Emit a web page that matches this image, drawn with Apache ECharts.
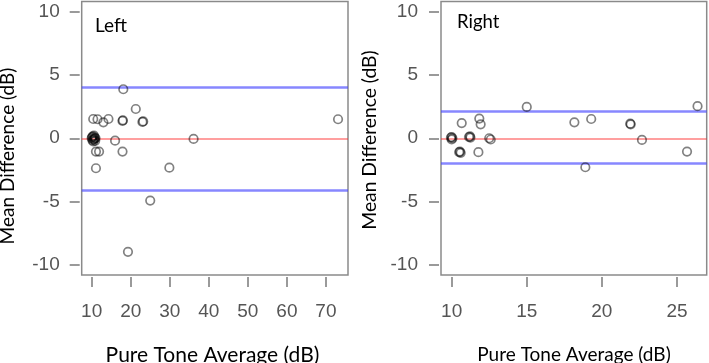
<!DOCTYPE html>
<html><head><meta charset="utf-8">
<script src="https://cdn.jsdelivr.net/npm/echarts@6/dist/echarts.min.js"></script>
<style>html,body{margin:0;padding:0;background:#fff}#c{width:709px;height:363px}</style>
</head><body><div id="c"></div>
<script>
// Left ear: Pure Tone Average (dB) vs Mean Difference (dB)
const leftPTA  = [10.0, 10.3, 10.5, 10.8, 11.0, 10.2, 10.6, 10.9, 10.1, 10.7, 10.4,
                  10.4, 11.5, 13.0, 14.3, 17.9, 18.0, 21.3, 23.0, 23.2, 18.1, 73.1,
                  16.0, 36.1,
                  11.1, 11.9, 17.9, 11.1, 29.9, 25.0, 19.3];
const leftDiff = [0.0, 0.15, -0.1, 0.05, 0.0, -0.15, 0.2, -0.2, 0.1, -0.05, -0.25,
                  1.52, 1.5, 1.26, 1.52, 1.37, 1.42, 2.31, 1.29, 1.33, 3.87, 1.5,
                  -0.19, -0.05,
                  -1.05, -1.05, -1.05, -2.37, -2.32, -4.92, -8.97];
const leftMean = 0;
const leftLimits = [-4.08, 4.03];

// Right ear
const rightPTA  = [10.0, 10.0, 10.05, 9.95, 11.22, 11.25, 11.15, 12.5, 12.6,
                   10.55, 10.6, 10.5, 11.78, 10.67, 11.84, 11.93, 15.0, 18.17, 19.29,
                   21.89, 21.92, 22.67, 18.9, 25.67, 26.37];
const rightDiff = [0.1, -0.1, 0.0, 0.05, 0.15, 0.05, 0.1, 0.0, -0.1,
                   -1.05, -1.15, -1.1, -1.1, 1.2, 1.55, 1.1, 2.47, 1.26, 1.52,
                   1.15, 1.1, -0.13, -2.29, -1.05, 2.53];
const rightMean = 0;
const rightLimits = [-2.0, 2.1];

// Tick labels
const leftXTicks = [10, 20, 30, 40, 50, 60, 70];
const rightXTicks = [10, 15, 20, 25];
const yTicks = [-10, -5, 0, 5, 10];

const panelLabels = ['Left', 'Right'];
const yTitle = 'Mean Difference (dB)';
const xTitle = 'Pure Tone Average (dB)';

const tickColor = '#7a7a7a';
const labelColor = '#555';

function xAxisCfg(gi, min, max, ticks) {
  return {
    type: 'value', gridIndex: gi, min: min, max: max, offset: 2, position: 'bottom',
    splitLine: {show: false}, axisLine: {show: false, onZero: false},
    axisTick: {show: true, length: 10, customValues: ticks, lineStyle: {color: tickColor, width: 1.5}},
    axisLabel: {customValues: ticks, margin: 25, color: labelColor, fontFamily: 'Liberation Sans', fontSize: 19}
  };
}
function yAxisCfg(gi, margin) {
  return {
    type: 'value', gridIndex: gi, min: -10.8, max: 10.8, offset: 2, position: 'left',
    splitLine: {show: false}, axisLine: {show: false, onZero: false},
    axisTick: {show: true, length: 10, customValues: yTicks, lineStyle: {color: tickColor, width: 1.5}},
    axisLabel: {customValues: yTicks, margin: margin, color: labelColor, fontFamily: 'Liberation Sans', fontSize: 19}
  };
}
function zip(a, b) { return a.map((v, i) => [v, b[i]]); }
function scatter(gi, xs, ys, mean, limits) {
  return {
    type: 'scatter', xAxisIndex: gi, yAxisIndex: gi, data: zip(xs, ys),
    symbol: 'circle', symbolSize: 8.5,
    itemStyle: {color: 'rgba(255,255,255,0)', borderColor: 'rgba(0,0,0,0.62)', borderWidth: 1.7},
    z: 3,
    markLine: {
      silent: true, symbol: 'none', label: {show: false}, animation: false, z: 2,
      data: [
        {yAxis: mean, lineStyle: {color: 'rgba(255,40,40,0.6)', width: 1.5, type: 'solid'}},
        {yAxis: limits[0], lineStyle: {color: 'rgba(70,70,255,0.65)', width: 2.5, type: 'solid'}},
        {yAxis: limits[1], lineStyle: {color: 'rgba(70,70,255,0.65)', width: 2.5, type: 'solid'}}
      ]
    }
  };
}

const chart = echarts.init(document.getElementById('c'));
chart.setOption({
  animation: false,
  backgroundColor: '#fff',
  grid: [
    {left: 81.7, top: 1.5, width: 266.3, height: 273.5, show: true, borderColor: '#8a8a8a', borderWidth: 1.5, backgroundColor: 'transparent'},
    {left: 441, top: 1.5, width: 265.7, height: 273.5, show: true, borderColor: '#8a8a8a', borderWidth: 1.5, backgroundColor: 'transparent'}
  ],
  xAxis: [xAxisCfg(0, 7.45, 75.65, leftXTicks), xAxisCfg(1, 9.29, 26.98, rightXTicks)],
  yAxis: [yAxisCfg(0, 20), yAxisCfg(1, 21)],
  series: [
    scatter(0, leftPTA, leftDiff, leftMean, leftLimits),
    scatter(1, rightPTA, rightDiff, rightMean, rightLimits)
  ],
  graphic: [
    {type: 'text', x: 95, y: 26, style: {text: panelLabels[0], fontFamily: 'Lato', fontSize: 19, fill: '#000', align: 'left', verticalAlign: 'middle'}},
    {type: 'text', x: 457, y: 22.5, style: {text: panelLabels[1], fontFamily: 'Lato', fontSize: 18.5, fill: '#000', align: 'left', verticalAlign: 'middle'}},
    {type: 'text', x: 8, y: 156, rotation: Math.PI / 2, style: {text: yTitle, fontFamily: 'Lato', fontSize: 19, fill: '#000', align: 'center', verticalAlign: 'middle'}},
    {type: 'text', x: 370, y: 140, rotation: Math.PI / 2, style: {text: yTitle, fontFamily: 'Lato', fontSize: 19.3, fill: '#000', align: 'center', verticalAlign: 'middle'}},
    {type: 'text', x: 212.5, y: 355, style: {text: xTitle, fontFamily: 'Lato', fontSize: 21, fill: '#000', align: 'center', verticalAlign: 'middle'}},
    {type: 'text', x: 574, y: 355, style: {text: xTitle, fontFamily: 'Lato', fontSize: 19, fill: '#000', align: 'center', verticalAlign: 'middle'}}
  ]
});
</script>
</body></html>
